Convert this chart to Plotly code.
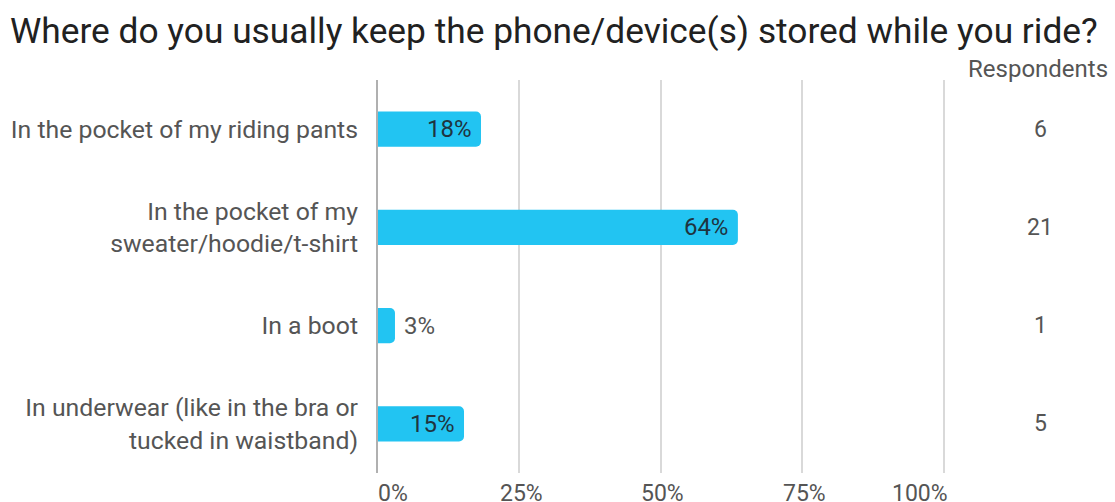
import plotly.graph_objects as go

title = "Where do you usually keep the phone/device(s) stored while you ride?"
categories = [
    "In the pocket of my riding pants",
    "In the pocket of my<br>sweater/hoodie/t-shirt",
    "In a boot",
    "In underwear (like in the bra or<br>tucked in waistband)",
]
respondents = [6, 21, 1, 5]
percent = [0.182, 0.636, 0.030, 0.152]
pct_labels = ["18%", "64%", "3%", "15%"]
text_pos = ["inside", "inside", "outside", "inside"]
tick_vals = [0, 0.25, 0.5, 0.75, 1.0]
tick_text = ["0%", "25%", "50%", "75%", "100%"]

W, H = 1115, 502
ML, MR, MT, MB = 378, 170, 80, 29
PW = W - ML - MR
FONT = "Roboto"
NB = "\u00a0"

bar_text = [
    (NB + t) if p == "outside" else (t + NB)
    for t, p in zip(pct_labels, text_pos)
]

fig = go.Figure()
fig.add_trace(go.Bar(
    y=categories, x=percent, orientation="h",
    marker=dict(color="#22c4f2", line=dict(width=0)),
    width=0.36,
    text=bar_text, textposition=text_pos,
    insidetextanchor="end",
    insidetextfont=dict(family=FONT, size=24, color="#1f3440"),
    outsidetextfont=dict(family=FONT, size=24, color="#555555"),
    textangle=0, cliponaxis=False,
    hoverinfo="skip",
))

annotations = [dict(
    xref="paper", yref="paper", x=(1038 - ML) / PW, y=1 + (MT - 69) / (H - MT - MB),
    text="Respondents", showarrow=False, xanchor="center", yanchor="middle",
    font=dict(family=FONT, size=24, color="#555555"),
)]
for c, r in zip(categories, respondents):
    annotations.append(dict(
        xref="paper", yref="y", x=(1040 - ML) / PW, y=c,
        text=str(r), showarrow=False, xanchor="center", yanchor="middle",
        font=dict(family=FONT, size=23, color="#555555"),
    ))

# x-axis tick labels (first kept left-aligned, last right-aligned as in the source)
n = len(tick_vals)
for i, (v, t) in enumerate(zip(tick_vals, tick_text)):
    if i == 0:
        anchor, shift = "left", -2
    elif i == n - 1:
        anchor, shift = "right", 6
    else:
        anchor, shift = "center", 2
    annotations.append(dict(
        xref="x", yref="paper", x=v, y=0, yshift=-5, xshift=shift,
        text=t, showarrow=False, xanchor=anchor, yanchor="top",
        font=dict(family=FONT, size=23, color="#555555"),
    ))

fig.update_layout(
    width=W, height=H,
    margin=dict(l=ML, r=MR, t=MT, b=MB),
    paper_bgcolor="white", plot_bgcolor="white",
    barcornerradius=5,
    showlegend=False,
    title=dict(text=title, xref="container", x=10 / W, xanchor="left",
               yref="container", y=1 - 31 / H, yanchor="middle",
               font=dict(family=FONT, size=35.3, color="#212121")),
    xaxis=dict(range=[0, 1.002], tickvals=tick_vals, showticklabels=False,
               showgrid=True, gridcolor="#d9d9d9", gridwidth=2,
               zeroline=False, showline=False, ticks="",
               fixedrange=True, automargin=False),
    yaxis=dict(autorange="reversed", showline=True, linecolor="#b0b0b0", linewidth=2,
               showgrid=False, ticks="", ticklabelstandoff=13,
               tickfont=dict(family=FONT, size=24.8, color="#555555"),
               fixedrange=True, automargin=False),
    annotations=annotations,
    font=dict(family=FONT),
)

fig.write_html("out.html")
